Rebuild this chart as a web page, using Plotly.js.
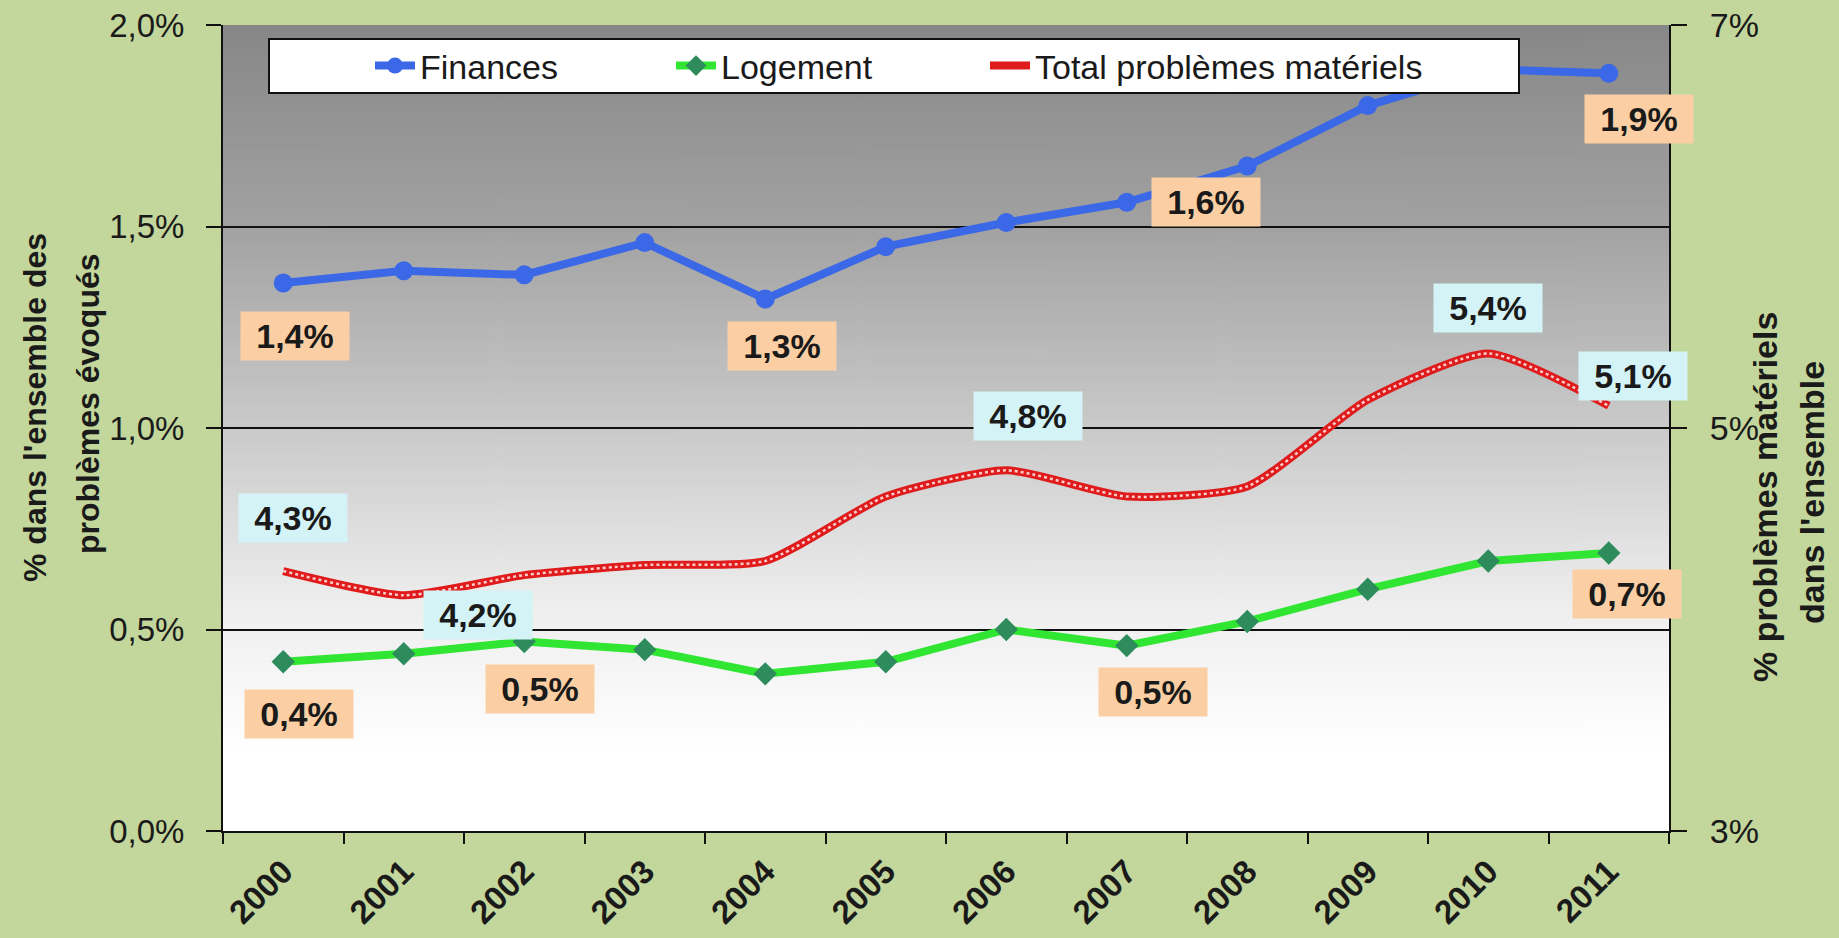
<!DOCTYPE html>
<html>
<head>
<meta charset="utf-8">
<script src="https://cdn.plot.ly/plotly-3.0.1.min.js"></script>
<style>
html,body{margin:0;padding:0;background:#c3d69b;}
#chart{width:1839px;height:938px;}
</style>
</head>
<body>
<div id="chart"></div>
<script>
// ---- data ----
var years = ['2000','2001','2002','2003','2004','2005','2006','2007','2008','2009','2010','2011'];
var finances = [1.36, 1.39, 1.38, 1.46, 1.32, 1.45, 1.51, 1.56, 1.65, 1.80, 1.89, 1.88];
var logement = [0.42, 0.44, 0.47, 0.45, 0.39, 0.42, 0.50, 0.46, 0.52, 0.60, 0.67, 0.69];
var totalMat = [4.29, 4.17, 4.27, 4.32, 4.34, 4.66, 4.79, 4.66, 4.71, 5.14, 5.37, 5.11];
var seriesNames = ['Finances', 'Logement', 'Total problèmes matériels'];
var leftTicks = [0, 0.5, 1.0, 1.5, 2.0];
var rightTicks = [3, 5, 7];

// data labels: [year index, xshift, yshift]
var finLabels = [[0, 12, -53], [4, 17, -47], [7, 79, 0], [11, 30, -46]];
var logLabels = [[0, 16, -52], [2, 16, -47], [7, 26, -46], [11, 18, -41]];
var totLabels = [[0, 10, 53], [1, 74, -20], [6, 22, 54], [10, 0, 45], [11, 24, 30]];

function fmt(v, d){ return v.toFixed(d).replace('.', ',') + '%'; }

// gradient background for the plot area
var cv = document.createElement('canvas');
cv.width = 8; cv.height = 400;
var cx = cv.getContext('2d');
var g = cx.createLinearGradient(0, 0, 0, 400);
g.addColorStop(0, '#878787');
g.addColorStop(0.25, '#a2a2a2');
g.addColorStop(0.5, '#cacaca');
g.addColorStop(0.72, '#eeeeee');
g.addColorStop(0.9, '#ffffff');
g.addColorStop(1, '#ffffff');
cx.fillStyle = g; cx.fillRect(0, 0, 8, 400);
var bgURL = cv.toDataURL('image/png');

var FONT = '"Liberation Sans", Arial, sans-serif';
var TXT = '#1a1a1a';

var traces = [
  {
    x: years, y: finances, name: seriesNames[0], type: 'scatter', mode: 'lines+markers',
    line: {color: '#3a68e6', width: 8},
    marker: {color: '#3a68e6', size: 19, symbol: 'circle'},
    xaxis: 'x', yaxis: 'y', legend: 'legend'
  },
  {
    x: years, y: logement, name: seriesNames[1], type: 'scatter', mode: 'lines+markers',
    line: {color: '#30e632', width: 8},
    marker: {color: '#2e8b5c', size: 18, symbol: 'diamond'},
    xaxis: 'x', yaxis: 'y', legend: 'legend2'
  },
  {
    x: years, y: totalMat, name: seriesNames[2], type: 'scatter', mode: 'lines',
    line: {color: '#e01b1b', width: 8, shape: 'spline', smoothing: 0.6},
    xaxis: 'x', yaxis: 'y2', legend: 'legend3'
  },
  {
    x: years, y: totalMat, name: seriesNames[2], type: 'scatter', mode: 'lines', showlegend: false,
    line: {color: 'rgba(255,235,235,0.85)', width: 2.5, shape: 'spline', smoothing: 0.6, dash: 'dot'},
    xaxis: 'x', yaxis: 'y2', hoverinfo: 'skip'
  }
];

var annotations = [];
function addLabels(list, arr, yref, bg){
  list.forEach(function(l){
    annotations.push({
      x: l[0], y: arr[l[0]], xref: 'x', yref: yref,
      text: fmt(arr[l[0]], 1), showarrow: false,
      xshift: l[1], yshift: l[2],
      bgcolor: bg, borderpad: 5, width: 98, height: 38,
      font: {family: FONT, size: 34, color: TXT, weight: 'bold'}
    });
  });
}
addLabels(finLabels, finances, 'y', '#fbcfa3');
addLabels(logLabels, logement, 'y', '#fbcfa3');
addLabels(totLabels, totalMat, 'y2', '#d3f3f7');

// axis titles (one annotation per line), positions in px converted to paper
var L = 223, R = 1669, T = 25, B = 831;
function px(x){ return (x - L) / (R - L); }
function py(y){ return (B - y) / (B - T); }
var titleLines = [
  ["% dans l'ensemble des", 35, 407, 32],
  ["problèmes évoqués", 88, 404, 32],
  ["% problèmes matériels", 1765, 497, 34],
  ["dans l'ensemble", 1812, 493, 34]
];
titleLines.forEach(function(t){
  annotations.push({
    xref: 'paper', yref: 'paper', x: px(t[1]), y: py(t[2]), xanchor: 'center', yanchor: 'middle',
    textangle: -90, showarrow: false, text: t[0],
    font: {family: FONT, size: t[3], color: TXT, weight: 'bold'}
  });
});

function legendAt(xpx){
  return {
    orientation: 'h', x: px(xpx), xanchor: 'left', y: py(66), yanchor: 'middle',
    bgcolor: 'rgba(0,0,0,0)', borderwidth: 0,
    font: {family: FONT, size: 34, color: TXT}, itemwidth: 40
  };
}

var layout = {
  width: 1839, height: 938,
  margin: {l: L, r: 1839 - R, t: T, b: 938 - B, pad: 0},
  paper_bgcolor: '#c3d69b',
  plot_bgcolor: 'rgba(0,0,0,0)',
  separators: ', ',
  showlegend: true,
  font: {family: FONT, color: TXT},
  xaxis: {
    type: 'category', tickson: 'boundaries', ticks: 'outside', ticklen: 11, tickwidth: 2, tickcolor: '#111',
    showline: true, linecolor: '#111', linewidth: 2, showgrid: false, zeroline: false,
    tickangle: -45, tickfont: {family: FONT, size: 33, color: TXT, weight: 'bold'},
    ticklabelstandoff: 6, range: [-0.5, 11.5]
  },
  yaxis: {
    range: [0, 2], tickmode: 'array', tickvals: leftTicks,
    ticktext: leftTicks.map(function(v){ return fmt(v, 1); }),
    ticks: 'outside', ticklen: 15, tickwidth: 2, tickcolor: '#111',
    showline: true, linecolor: '#111', linewidth: 2,
    showgrid: true, gridcolor: '#111', gridwidth: 2, zeroline: false,
    tickfont: {family: FONT, size: 33, color: TXT}, ticklabelstandoff: 15
  },
  yaxis2: {
    overlaying: 'y', side: 'right', range: [3, 7], tickmode: 'array', tickvals: rightTicks,
    ticktext: rightTicks.map(function(v){ return fmt(v, 0); }),
    ticks: 'outside', ticklen: 16, tickwidth: 2, tickcolor: '#111',
    showline: true, linecolor: '#111', linewidth: 2, showgrid: false, zeroline: false,
    tickfont: {family: FONT, size: 34, color: TXT}, ticklabelstandoff: 16
  },
  legend: legendAt(370),
  legend2: legendAt(671),
  legend3: legendAt(985),
  shapes: [{
    type: 'rect', xref: 'paper', yref: 'paper', layer: 'above',
    x0: px(269), x1: px(1519), y0: py(93), y1: py(39),
    fillcolor: '#ffffff', line: {color: '#111', width: 2}
  }],
  images: [{
    source: bgURL, xref: 'paper', yref: 'paper', x: 0, y: 1, sizex: 1, sizey: 1,
    sizing: 'stretch', layer: 'below', xanchor: 'left', yanchor: 'top'
  }],
  annotations: annotations
};

Plotly.newPlot('chart', traces, layout, {displayModeBar: false, staticPlot: true});
</script>
</body>
</html>
